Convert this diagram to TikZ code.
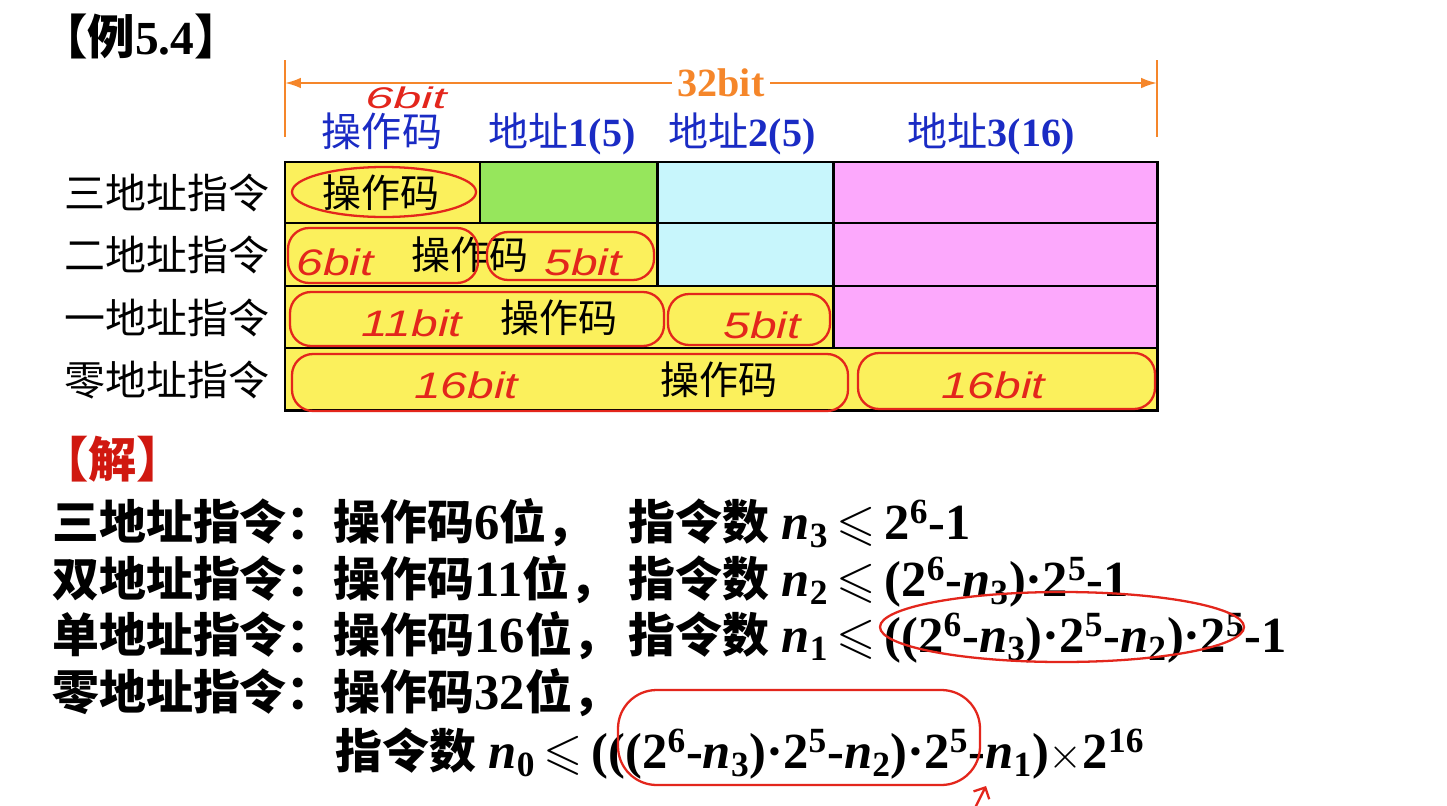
\documentclass[tikz,border=0pt]{standalone}
\usepackage{fontspec}
\usepackage{amssymb}
\setmainfont{Liberation Serif}
\setsansfont{Liberation Sans}
\newfontfamily\cjk{Noto Sans CJK SC}
\usetikzlibrary{arrows.meta, shapes.geometric}
\definecolor{cyellow}{HTML}{FBF05C}
\definecolor{cgreen}{HTML}{96E65C}
\definecolor{ccyan}{HTML}{C8F6FC}
\definecolor{cpink}{HTML}{FCA8FC}
\definecolor{cblue}{HTML}{1A2BC4}
\definecolor{corange}{HTML}{F5862A}
\definecolor{cred}{HTML}{E3261C}
\definecolor{cdark}{HTML}{D01810}
\newcommand{\zh}[1]{{\cjk #1}}
\newcommand{\zb}[1]{{\cjk\fontsize{26.7}{32}\selectfont #1}}
\newcommand{\nv}[1]{\textit{n}\textsubscript{#1}}
\newcommand{\pw}[2]{#1\textsuperscript{#2}}
\newcommand{\leqs}{\,$\leqslant$\,}
\tikzset{
  cell/.style={fill=#1, draw=black, line width=1.7pt},
  rowlabel/.style={anchor=base east, inner sep=0pt, font=\cjk\fontsize{23.3}{28}\selectfont},
  head/.style={anchor=base, inner sep=0pt, text=cblue, font=\fontsize{22.8}{27}\selectfont},
  optext/.style={anchor=base, inner sep=0pt, font=\cjk\fontsize{22.2}{26}\selectfont},
  sol/.style={anchor=base west, inner sep=0pt, font=\bfseries\fontsize{28.8}{33}\selectfont},
  hand/.style={text=cred, inner sep=0pt, font=\sffamily\itshape\fontsize{21}{25}\selectfont, xscale=1.3},
  scribble/.style={draw=cred, line width=1.3pt, rounded corners=12pt},
  dimline/.style={draw=corange, line width=1.2pt},
}
\begin{document}
\begin{tikzpicture}[x=0.02cm, y=-0.02cm]
  \fill[white] (0,0) rectangle (1447,805);
  \useasboundingbox (0,0) rectangle (1447,805);
  \node[anchor=base west, inner sep=0pt, font=\bfseries\fontsize{27}{32}\selectfont] (title) at (40,54) {\zh{【例}5.4\zh{】}};
  % 32bit dimension
  \draw[dimline] (285,60) -- (285,137);
  \draw[dimline] (1157,60) -- (1157,137);
  \coordinate (dl) at (285,83);
  \coordinate (dr) at (1157,83);
  \draw[dimline, {Latex[length=9pt,width=6pt]}-{Latex[length=9pt,width=6pt]}] (dl) -- node[fill=white, text=corange, inner sep=3pt, font=\bfseries\fontsize{22.8}{27}\selectfont] (bits) {32bit} (dr);
  % field headers
  \node[head] (hop) at (382,146) {\zh{操作码}};
  \node[head] (ha1) at (562,146) {\zh{地址}\textbf{1(5)}};
  \node[head] (ha2) at (742,146) {\zh{地址}\textbf{2(5)}};
  \node[head] (ha3) at (991,146) {\zh{地址}\textbf{3(16)}};
  % instruction formats
  \draw[cell=cyellow] (285,162) rectangle (480,223);
  \draw[cell=cgreen] (480,162) rectangle (657,223);
  \draw[cell=ccyan] (657,162) rectangle (833,223);
  \draw[cell=cpink] (833,162) rectangle (1157,223);
  \draw[cell=cyellow] (285,223) rectangle (657,286);
  \draw[cell=ccyan] (657,223) rectangle (833,286);
  \draw[cell=cpink] (833,223) rectangle (1157,286);
  \draw[cell=cyellow] (285,286) rectangle (833,348);
  \draw[cell=cpink] (833,286) rectangle (1157,348);
  \draw[cell=cyellow] (285,348) rectangle (1157,410);
  \node[rowlabel] (r3) at (270,208) {三地址指令};
  \node[rowlabel] (r2) at (270,270) {二地址指令};
  \node[rowlabel] (r1) at (270,333) {一地址指令};
  \node[rowlabel] (r0) at (270,395) {零地址指令};
  \node[optext] (op3) at (381,207) {操作码};
  \node[optext] (op2) at (470,269) {操作码};
  \node[optext] (op1) at (559,332) {操作码};
  \node[optext] (op0) at (719,394) {操作码};
  % handwritten notes
  \node[hand, font=\sffamily\itshape\fontsize{17}{20}\selectfont, xscale=1.3] (n6h) at (406,98) {6bit};
  \draw[scribble] (384,192) ellipse [x radius=92, y radius=25];
  \draw[scribble] (288,228) rectangle (478,283);
  \draw[scribble] (487,232) rectangle (654,280);
  \node[hand] (n6) at (335,262) {6bit};
  \node[hand] (n5a) at (583,262) {5bit};
  \draw[scribble] (290,292) rectangle (664,346);
  \draw[scribble] (668,294) rectangle (830,345);
  \node[hand] (n11) at (412,323) {11bit};
  \node[hand] (n5b) at (762,325) {5bit};
  \draw[scribble] (292,354) rectangle (848,411);
  \draw[scribble] (858,353) rectangle (1155,409);
  \node[hand] (n16a) at (466,385) {16bit};
  \node[hand] (n16b) at (993,385) {16bit};
  % solution
  \node[anchor=base west, inner sep=0pt, text=cdark, font=\bfseries\cjk\fontsize{27.5}{32}\selectfont] (jie) at (40,477) {【解】};
  \node[sol] (s3) at (52,539) {\zb{三地址指令：操作码}6\zb{位，}};
  \node[sol] (s2) at (52,596) {\zb{双地址指令：操作码}11\zb{位，}};
  \node[sol] (s1) at (52,652) {\zb{单地址指令：操作码}16\zb{位，}};
  \node[sol] (s0) at (52,709) {\zb{零地址指令：操作码}32\zb{位，}};
  \node[sol] (c3) at (628,539) {\zb{指令数} \nv{3}\leqs\pw{2}{6}-1};
  \node[sol] (c2) at (628,596) {\zb{指令数} \nv{2}\leqs(\pw{2}{6}-\nv{3})·\pw{2}{5}-1};
  \node[sol] (c1) at (628,652) {\zb{指令数} \nv{1}\leqs((\pw{2}{6}-\nv{3})·\pw{2}{5}-\nv{2})·\pw{2}{5}-1};
  \node[sol] (c0) at (335,768) {\zb{指令数} \nv{0}\leqs(((\pw{2}{6}-\nv{3})·\pw{2}{5}-\nv{2})·\pw{2}{5}-\nv{1})$\times$\pw{2}{16}};
  \draw[scribble, rounded corners=0pt] (1062,627) ellipse [x radius=182, y radius=35];
  \draw[scribble, rounded corners=22pt] (618,690) rectangle (980,785);
  \coordinate (tail) at (975,808);
  \coordinate (tip) at (986,786);
  \draw[draw=cred, line width=1.3pt, -{Straight Barb[length=5pt]}] (tail) -- (tip);
\end{tikzpicture}
\end{document}
